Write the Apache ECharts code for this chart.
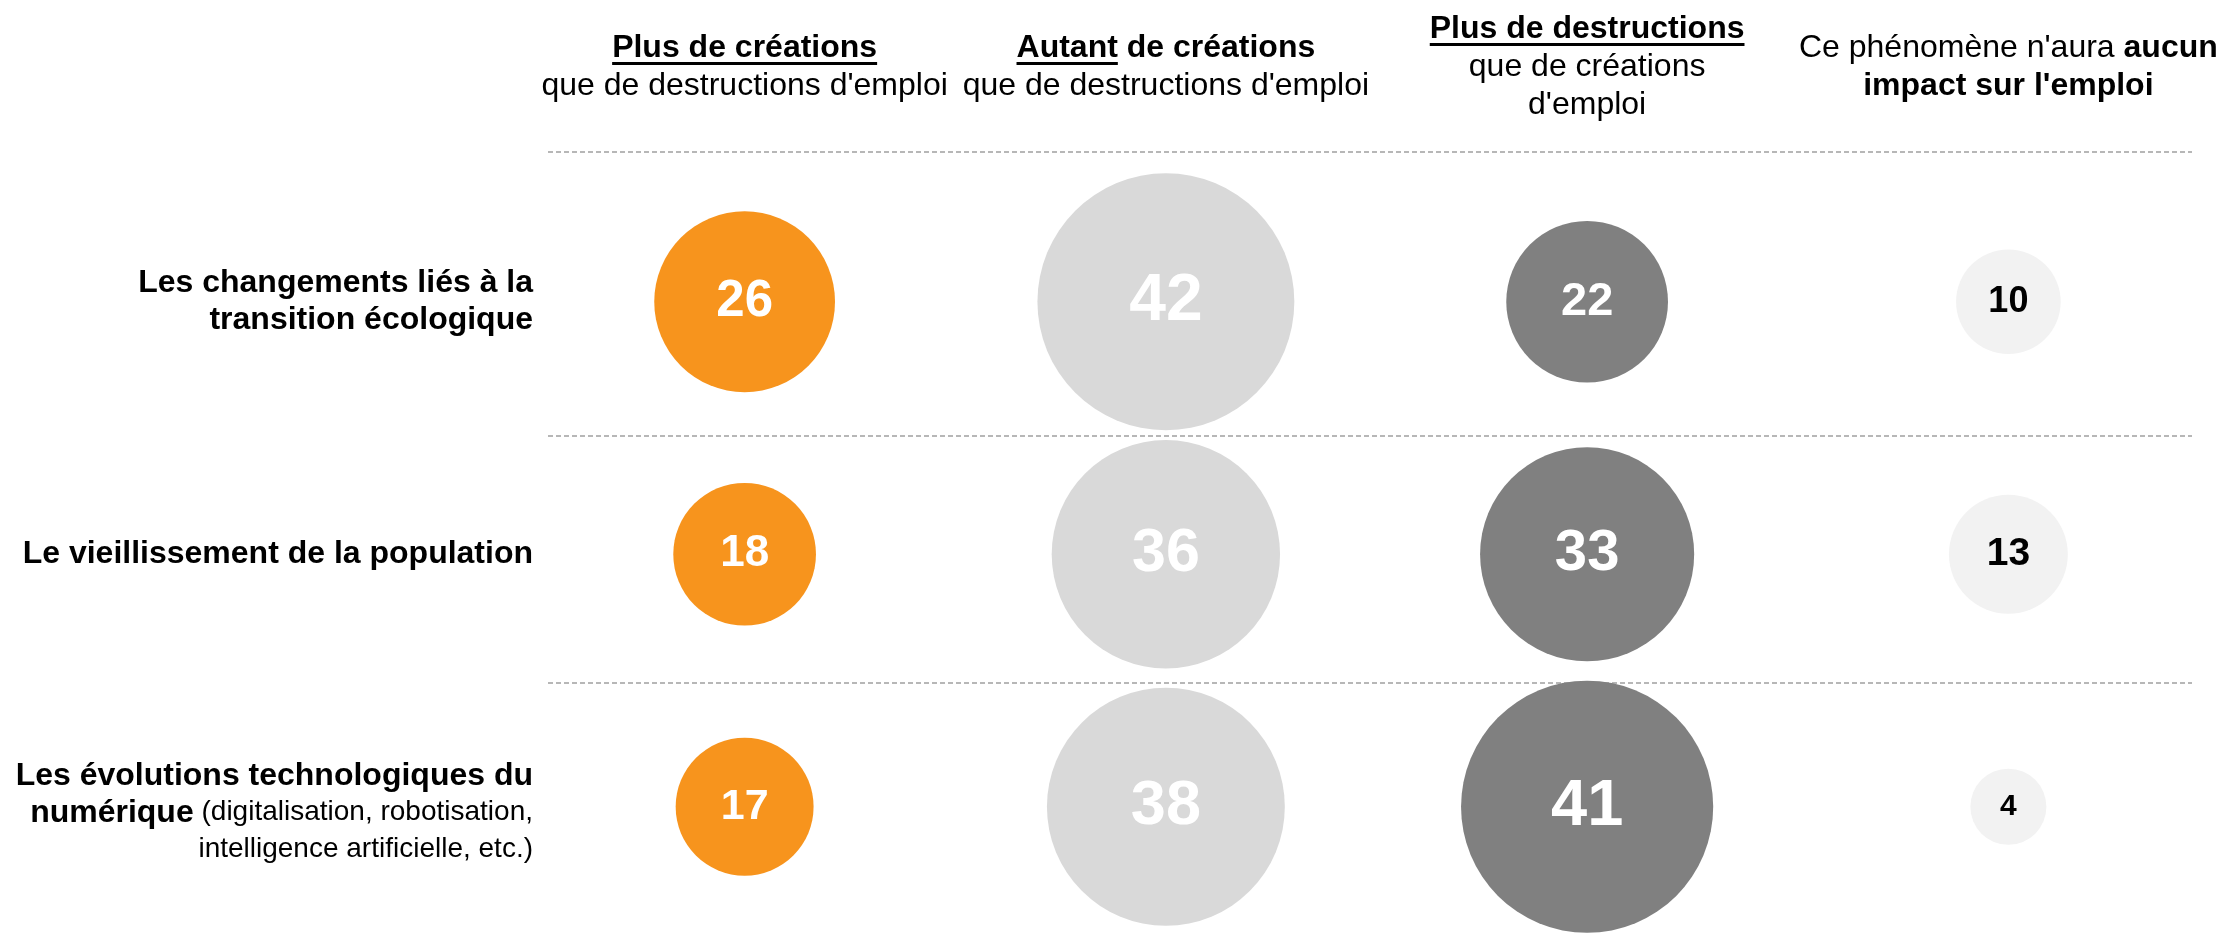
<!DOCTYPE html>
<html>
<head>
<meta charset="utf-8">
<script src="https://cdn.jsdelivr.net/npm/echarts@6/dist/echarts.min.js"></script>
<style>
  html, body { margin: 0; padding: 0; background: #ffffff; }
  #chart { width: 2225px; height: 933px; }
</style>
</head>
<body>
<div id="chart"></div>
<script>
const FONT = "'Liberation Sans', Arial, Helvetica, sans-serif";

// Answer options (columns), as drawn in the header
const answerHeaders = [
  '{bu|Plus de créations}\n{r|que de destructions d\'emploi}',
  '{bu|Autant}{b| de créations}\n{r|que de destructions d\'emploi}',
  '{bu|Plus de destructions}\n{r|que de créations}\n{r|d\'emploi}',
  '{r|Ce phénomène n\'aura }{b|aucun}\n{b|impact sur l\'emploi}'
];
// Underlined part of each header's first line: [underlined text, full first line]
const headerUnderlines = [
  ['Plus de créations', 'Plus de créations'],
  ['Autant', 'Autant de créations'],
  ['Plus de destructions', 'Plus de destructions'],
  null
];

// Phenomena (rows)
const phenomenaLabels = [
  '{b|Les changements liés à la}\n{b|transition écologique}',
  '{b|Le vieillissement de la population}',
  '{b|Les évolutions technologiques du}\n{b|numérique}{r| (digitalisation, robotisation,}\n{r|intelligence artificielle, etc.)}'
];

// Share of answers (%), one value per phenomenon (rows in order)
const plusCreations    = [26, 18, 17];
const autantCreations  = [42, 36, 38];
const plusDestructions = [22, 33, 41];
const aucunImpact      = [10, 13, 4];

const answerColors = ['#F7941D', '#D9D9D9', '#808080', '#F2F2F2'];
const answerTextColors = ['#FFFFFF', '#FFFFFF', '#FFFFFF', '#000000'];

const seriesValues = [plusCreations, autantCreations, plusDestructions, aucunImpact];
const seriesNames = ['Plus de créations', 'Autant de créations', 'Plus de destructions', 'Aucun impact'];

// Bubble diameter grows with the share; the label grows with the bubble
const bubbleDiameter = v => 57 + 4.76 * v;
const bubbleFont = v => Math.round(15 + 0.2 * bubbleDiameter(v));

const GRID_TOP = 175.5;
const LINE_H = 38;
const HEADER_MID = 67;

const chart = echarts.init(document.getElementById('chart'), null, { renderer: 'canvas' });

const option = {
  backgroundColor: '#ffffff',
  animation: false,
  textStyle: { fontFamily: FONT },
  grid: { left: 534, width: 1685, top: GRID_TOP, height: 766.5, containLabel: false },
  xAxis: {
    type: 'category',
    position: 'top',
    data: answerHeaders.map((_, i) => i),
    axisLine: { show: false },
    axisTick: { show: false },
    splitLine: { show: false },
    axisLabel: {
      interval: 0,
      margin: GRID_TOP - HEADER_MID,
      verticalAlign: 'middle',
      align: 'center',
      formatter: (v, i) => answerHeaders[i],
      rich: {
        bu: { fontFamily: FONT, fontSize: 32, fontWeight: 'bold', color: '#000', lineHeight: LINE_H },
        b:  { fontFamily: FONT, fontSize: 32, fontWeight: 'bold', color: '#000', lineHeight: LINE_H },
        r:  { fontFamily: FONT, fontSize: 32, color: '#000', lineHeight: LINE_H }
      }
    }
  },
  yAxis: {
    type: 'category',
    inverse: true,
    data: phenomenaLabels.map((_, i) => (i === 2
      ? { value: i, textStyle: { padding: [12, 0, 0, 0] } }
      : i)),
    axisLine: { show: false },
    axisTick: { show: false },
    splitLine: { show: false },
    axisLabel: {
      interval: 0,
      margin: 1,
      align: 'right',
      verticalAlign: 'middle',
      formatter: (v, i) => phenomenaLabels[i],
      rich: {
        b: { fontFamily: FONT, fontSize: 32, fontWeight: 'bold', color: '#000', lineHeight: 37 },
        r: { fontFamily: FONT, fontSize: 28, color: '#000', lineHeight: 37 }
      }
    }
  },
  series: seriesValues.map((vals, c) => ({
    type: 'scatter',
    name: seriesNames[c],
    silent: true,
    emphasis: { disabled: true },
    symbol: 'circle',
    symbolSize: d => bubbleDiameter(d[2]),
    itemStyle: { color: answerColors[c], opacity: 1 },
    label: {
      show: true,
      position: 'inside',
      fontFamily: FONT,
      fontWeight: 'bold',
      color: answerTextColors[c],
      formatter: p => String(p.value[2])
    },
    data: vals.map((v, r) => ({
      value: [c, r, v],
      label: { fontSize: bubbleFont(v) }
    }))
  }))
};

chart.setOption(option);

// Dashed separators and header underlines
function measure(text, bold) {
  const ctx = document.createElement('canvas').getContext('2d');
  ctx.font = (bold ? 'bold ' : '') + '32px ' + FONT;
  return ctx.measureText(text).width;
}

const graphics = [];
[152, 436, 683].forEach(y => {
  graphics.push({
    type: 'line',
    silent: true,
    shape: { x1: 548, y1: y, x2: 2192, y2: y },
    style: { stroke: '#A0A0A0', lineWidth: 1.5, lineDash: [5, 3] }
  });
});

answerHeaders.forEach((h, i) => {
  const u = headerUnderlines[i];
  if (!u) return;
  const nLines = h.split('\n').length;
  const blockTop = HEADER_MID - nLines * LINE_H / 2;
  const lineCenter = blockTop + LINE_H / 2;
  const cx = chart.convertToPixel({ xAxisIndex: 0 }, i);
  const full = measure(u[1], true);
  const part = measure(u[0], true);
  const x0 = cx - full / 2;
  graphics.push({
    type: 'rect',
    silent: true,
    shape: { x: x0, y: lineCenter + 14, width: part, height: 3 },
    style: { fill: '#000' }
  });
});

chart.setOption({ graphic: graphics });
</script>
</body>
</html>
